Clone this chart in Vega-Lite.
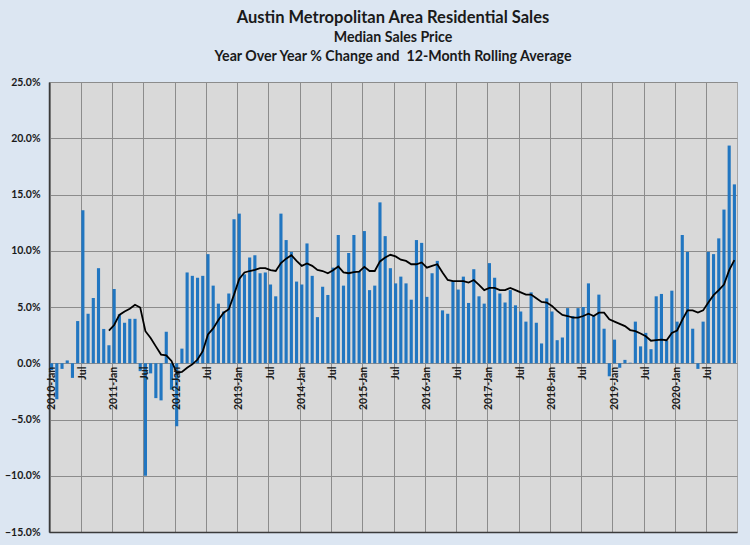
{
  "$schema": "https://vega.github.io/schema/vega-lite/v6.json",
  "autosize": {"type": "none"},
  "width": 688,
  "height": 450,
  "padding": {"left": 49, "top": 82, "right": 13, "bottom": 13},
  "background": "#dce6f2",
  "title": {
    "text": "Austin Metropolitan Area Residential Sales",
    "subtitle": ["Median Sales Price", "Year Over Year % Change and \u00a012-Month Rolling Average"],
    "anchor": "middle",
    "font": "Lato",
    "fontSize": 16.5,
    "fontWeight": "bold",
    "color": "#1a1a1a",
    "subtitleFont": "Lato",
    "subtitleFontSize": 14.2,
    "subtitleFontWeight": "bold",
    "subtitleColor": "#1a1a1a",
    "subtitleLineHeight": 19,
    "subtitlePadding": 4,
    "offset": 13
  },
  "data": {
    "values": [
      {"m": "2010-01", "yoy": -0.6, "avg": null},
      {"m": "2010-02", "yoy": -3.2, "avg": null},
      {"m": "2010-03", "yoy": -0.5, "avg": null},
      {"m": "2010-04", "yoy": 0.25, "avg": null},
      {"m": "2010-05", "yoy": -1.3, "avg": null},
      {"m": "2010-06", "yoy": 3.75, "avg": null},
      {"m": "2010-07", "yoy": 13.6, "avg": null},
      {"m": "2010-08", "yoy": 4.4, "avg": null},
      {"m": "2010-09", "yoy": 5.8, "avg": null},
      {"m": "2010-10", "yoy": 8.45, "avg": null},
      {"m": "2010-11", "yoy": 3.05, "avg": null},
      {"m": "2010-12", "yoy": 1.6, "avg": 2.9},
      {"m": "2011-01", "yoy": 6.6, "avg": 3.4},
      {"m": "2011-02", "yoy": 4.35, "avg": 4.3},
      {"m": "2011-03", "yoy": 3.6, "avg": 4.6},
      {"m": "2011-04", "yoy": 3.95, "avg": 4.85},
      {"m": "2011-05", "yoy": 3.95, "avg": 5.2},
      {"m": "2011-06", "yoy": -0.7, "avg": 4.95},
      {"m": "2011-07", "yoy": -10.0, "avg": 2.85},
      {"m": "2011-08", "yoy": -0.9, "avg": 2.25},
      {"m": "2011-09", "yoy": -3.1, "avg": 1.5},
      {"m": "2011-10", "yoy": -3.3, "avg": 0.77},
      {"m": "2011-11", "yoy": 2.8, "avg": 0.7},
      {"m": "2011-12", "yoy": -2.35, "avg": 0.2},
      {"m": "2012-01", "yoy": -5.6, "avg": -0.85},
      {"m": "2012-02", "yoy": 1.3, "avg": -0.77},
      {"m": "2012-03", "yoy": 8.07, "avg": -0.4},
      {"m": "2012-04", "yoy": 7.77, "avg": -0.1},
      {"m": "2012-05", "yoy": 7.6, "avg": 0.33},
      {"m": "2012-06", "yoy": 7.77, "avg": 1.07},
      {"m": "2012-07", "yoy": 9.7, "avg": 2.56},
      {"m": "2012-08", "yoy": 6.9, "avg": 3.1},
      {"m": "2012-09", "yoy": 5.3, "avg": 3.85},
      {"m": "2012-10", "yoy": 4.6, "avg": 4.5},
      {"m": "2012-11", "yoy": 6.2, "avg": 4.8},
      {"m": "2012-12", "yoy": 12.8, "avg": 6.1},
      {"m": "2013-01", "yoy": 13.3, "avg": 7.5},
      {"m": "2013-02", "yoy": 7.9, "avg": 8.07},
      {"m": "2013-03", "yoy": 9.4, "avg": 8.2},
      {"m": "2013-04", "yoy": 9.6, "avg": 8.3},
      {"m": "2013-05", "yoy": 8.0, "avg": 8.45},
      {"m": "2013-06", "yoy": 8.07, "avg": 8.45},
      {"m": "2013-07", "yoy": 7.0, "avg": 8.27},
      {"m": "2013-08", "yoy": 5.95, "avg": 8.2},
      {"m": "2013-09", "yoy": 13.3, "avg": 8.9},
      {"m": "2013-10", "yoy": 10.95, "avg": 9.3},
      {"m": "2013-11", "yoy": 9.9, "avg": 9.6},
      {"m": "2013-12", "yoy": 7.26, "avg": 9.1},
      {"m": "2014-01", "yoy": 7.0, "avg": 8.66},
      {"m": "2014-02", "yoy": 10.65, "avg": 8.87},
      {"m": "2014-03", "yoy": 7.77, "avg": 8.66},
      {"m": "2014-04", "yoy": 4.1, "avg": 8.3},
      {"m": "2014-05", "yoy": 6.8, "avg": 8.2},
      {"m": "2014-06", "yoy": 6.07, "avg": 8.0},
      {"m": "2014-07", "yoy": 8.5, "avg": 8.27},
      {"m": "2014-08", "yoy": 11.4, "avg": 8.6},
      {"m": "2014-09", "yoy": 6.9, "avg": 8.07},
      {"m": "2014-10", "yoy": 9.8, "avg": 8.0},
      {"m": "2014-11", "yoy": 11.4, "avg": 8.1},
      {"m": "2014-12", "yoy": 8.2, "avg": 8.15},
      {"m": "2015-01", "yoy": 11.75, "avg": 8.57},
      {"m": "2015-02", "yoy": 6.5, "avg": 8.2},
      {"m": "2015-03", "yoy": 6.9, "avg": 8.2},
      {"m": "2015-04", "yoy": 14.3, "avg": 9.05},
      {"m": "2015-05", "yoy": 11.3, "avg": 9.4},
      {"m": "2015-06", "yoy": 8.45, "avg": 9.64},
      {"m": "2015-07", "yoy": 7.1, "avg": 9.5},
      {"m": "2015-08", "yoy": 7.7, "avg": 9.2},
      {"m": "2015-09", "yoy": 7.1, "avg": 9.1},
      {"m": "2015-10", "yoy": 5.65, "avg": 8.8},
      {"m": "2015-11", "yoy": 10.95, "avg": 8.8},
      {"m": "2015-12", "yoy": 10.7, "avg": 8.96},
      {"m": "2016-01", "yoy": 5.9, "avg": 8.5},
      {"m": "2016-02", "yoy": 8.0, "avg": 8.66},
      {"m": "2016-03", "yoy": 9.1, "avg": 8.8},
      {"m": "2016-04", "yoy": 4.7, "avg": 8.07},
      {"m": "2016-05", "yoy": 4.4, "avg": 7.4},
      {"m": "2016-06", "yoy": 7.3, "avg": 7.3},
      {"m": "2016-07", "yoy": 6.55, "avg": 7.3},
      {"m": "2016-08", "yoy": 7.7, "avg": 7.3},
      {"m": "2016-09", "yoy": 5.36, "avg": 7.17},
      {"m": "2016-10", "yoy": 8.36, "avg": 7.4},
      {"m": "2016-11", "yoy": 5.95, "avg": 6.96},
      {"m": "2016-12", "yoy": 5.3, "avg": 6.5},
      {"m": "2017-01", "yoy": 8.9, "avg": 6.7},
      {"m": "2017-02", "yoy": 7.6, "avg": 6.7},
      {"m": "2017-03", "yoy": 6.2, "avg": 6.5},
      {"m": "2017-04", "yoy": 5.4, "avg": 6.5},
      {"m": "2017-05", "yoy": 6.5, "avg": 6.7},
      {"m": "2017-06", "yoy": 5.15, "avg": 6.5},
      {"m": "2017-07", "yoy": 4.6, "avg": 6.3},
      {"m": "2017-08", "yoy": 3.7, "avg": 6.1},
      {"m": "2017-09", "yoy": 6.3, "avg": 6.1},
      {"m": "2017-10", "yoy": 3.6, "avg": 5.77},
      {"m": "2017-11", "yoy": 1.76, "avg": 5.45},
      {"m": "2017-12", "yoy": 5.77, "avg": 5.4},
      {"m": "2018-01", "yoy": 4.6, "avg": 5.1},
      {"m": "2018-02", "yoy": 2.05, "avg": 4.65},
      {"m": "2018-03", "yoy": 2.3, "avg": 4.3},
      {"m": "2018-04", "yoy": 4.9, "avg": 4.2},
      {"m": "2018-05", "yoy": 4.2, "avg": 4.05},
      {"m": "2018-06", "yoy": 4.9, "avg": 4.05},
      {"m": "2018-07", "yoy": 5.0, "avg": 4.2},
      {"m": "2018-08", "yoy": 7.1, "avg": 4.4},
      {"m": "2018-09", "yoy": 4.2, "avg": 4.2},
      {"m": "2018-10", "yoy": 6.1, "avg": 4.5},
      {"m": "2018-11", "yoy": 3.07, "avg": 4.5},
      {"m": "2018-12", "yoy": -1.16, "avg": 3.9},
      {"m": "2019-01", "yoy": 2.1, "avg": 3.7},
      {"m": "2019-02", "yoy": -0.4, "avg": 3.5},
      {"m": "2019-03", "yoy": 0.3, "avg": 3.3},
      {"m": "2019-04", "yoy": 0.05, "avg": 2.95},
      {"m": "2019-05", "yoy": 3.7, "avg": 2.86},
      {"m": "2019-06", "yoy": 1.5, "avg": 2.65},
      {"m": "2019-07", "yoy": 2.7, "avg": 2.4},
      {"m": "2019-08", "yoy": 1.25, "avg": 2.0},
      {"m": "2019-09", "yoy": 5.95, "avg": 2.05},
      {"m": "2019-10", "yoy": 6.16, "avg": 2.1},
      {"m": "2019-11", "yoy": 2.0, "avg": 2.05},
      {"m": "2019-12", "yoy": 6.45, "avg": 2.7},
      {"m": "2020-01", "yoy": 3.7, "avg": 2.9},
      {"m": "2020-02", "yoy": 11.4, "avg": 3.85},
      {"m": "2020-03", "yoy": 9.9, "avg": 4.7},
      {"m": "2020-04", "yoy": 3.07, "avg": 4.7},
      {"m": "2020-05", "yoy": -0.5, "avg": 4.5},
      {"m": "2020-06", "yoy": 3.7, "avg": 4.7},
      {"m": "2020-07", "yoy": 9.9, "avg": 5.4},
      {"m": "2020-08", "yoy": 9.7, "avg": 6.05},
      {"m": "2020-09", "yoy": 11.1, "avg": 6.5},
      {"m": "2020-10", "yoy": 13.66, "avg": 7.0},
      {"m": "2020-11", "yoy": 19.35, "avg": 8.27},
      {"m": "2020-12", "yoy": 15.9, "avg": 9.17}
    ]
  },
  "layer": [
    {
      "mark": {"type": "bar", "color": "#2176c1"},
      "encoding": {
        "x": {
          "field": "m",
          "type": "ordinal",
          "sort": null,
          "scale": {"paddingInner": 0.4, "paddingOuter": 0.2},
          "axis": {
            "orient": "bottom",
            "title": null,
            "values": ["2010-01", "2010-07", "2011-01", "2011-07", "2012-01", "2012-07", "2013-01", "2013-07", "2014-01", "2014-07", "2015-01", "2015-07", "2016-01", "2016-07", "2017-01", "2017-07", "2018-01", "2018-07", "2019-01", "2019-07", "2020-01", "2020-07"],
            "bandPosition": 0,
            "grid": true,
            "gridColor": "#8c8c8c",
            "gridWidth": 1,
            "labels": false,
            "ticks": false,
            "domain": true,
            "domainColor": "#3a3a3a",
            "domainWidth": 1.5
          }
        },
        "y": {
          "field": "yoy",
          "type": "quantitative",
          "title": null,
          "scale": {"domain": [-15, 25], "nice": false}
        }
      }
    },
    {
      "mark": {"type": "line", "color": "#000000", "strokeWidth": 1.8},
      "encoding": {
        "x": {
          "field": "m",
          "type": "ordinal",
          "sort": null,
          "axis": {
            "orient": "bottom",
            "title": null,
            "offset": -168.75,
            "zindex": 1,
            "values": ["2010-01", "2010-07", "2011-01", "2011-07", "2012-01", "2012-07", "2013-01", "2013-07", "2014-01", "2014-07", "2015-01", "2015-07", "2016-01", "2016-07", "2017-01", "2017-07", "2018-01", "2018-07", "2019-01", "2019-07", "2020-01", "2020-07"],
            "labelExpr": "substring(datum.value, 5, 7) == '01' ? substring(datum.value, 0, 4) + '-Jan' : 'Jul'",
            "labelAngle": -90,
            "labelFont": "Lato",
            "labelFontSize": 10.5,
            "labelFontWeight": "bold",
            "labelColor": "#1a1a1a",
            "labelPadding": 3,
            "grid": false,
            "ticks": false,
            "domain": false
          }
        },
        "y": {"field": "avg", "type": "quantitative", "title": null}
      }
    }
  ],
  "resolve": {"axis": {"x": "independent"}},
  "config": {
    "view": {"fill": "#d9d9d9", "stroke": "#a6a6a6"},
    "axisY": {
      "values": [-15, -10, -5, 0, 5, 10, 15, 20, 25],
      "labelExpr": "format(datum.value, '.1f') + '%'",
      "labelFont": "Lato",
      "labelFontSize": 10.5,
      "labelFontWeight": "bold",
      "labelColor": "#1a1a1a",
      "labelPadding": 9,
      "ticks": false,
      "grid": true,
      "gridColor": "#8c8c8c",
      "gridWidth": 1,
      "domain": true,
      "domainColor": "#3a3a3a",
      "domainWidth": 1.5
    }
  }
}
